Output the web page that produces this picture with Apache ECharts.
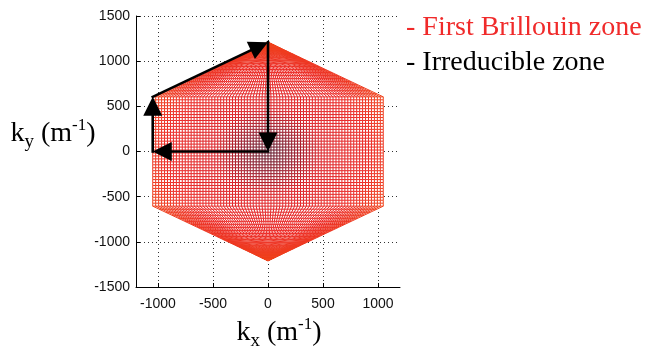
<!DOCTYPE html>
<html>
<head>
<meta charset="utf-8">
<script src="https://cdn.jsdelivr.net/npm/echarts@6/dist/echarts.min.js"></script>
<style>
  html, body { margin: 0; padding: 0; background: #fff; }
  #chart { width: 655px; height: 353px; }
</style>
</head>
<body>
<div id="chart"></div>
<script>
// Axis ticks
const xTicks = [-1000, -500, 0, 500, 1000];
const yTicks = [-1500, -1000, -500, 0, 500, 1000, 1500];

// Corners of the first Brillouin zone (hexagon), clockwise from the top
const zoneX = [0, 1048, 1048, 0, -1048, -1048];
const zoneY = [1210, 605, -605, -1210, -605, 605];

// Irreducible zone path, each leg drawn as an arrow
const pathX = [0, 0, -1048, -1048, 0];
const pathY = [1210, 0, 0, 605, 1210];

// Mesh resolution over the zone
const meshCols = 78;
const meshRowsMid = 37;
const meshRowsTip = 18;

// ---- mesh geometry built from the hexagon corners ----
const halfW = zoneX[1];
const yEdge = zoneY[1];
const yApex = zoneY[0];

function widthAt(y) {
  const a = Math.abs(y);
  return a <= yEdge ? halfW : halfW * (yApex - a) / (yApex - yEdge);
}

const rowYs = [];
for (let j = 0; j <= meshRowsTip; j++) rowYs.push(-yApex + j * (yApex - yEdge) / meshRowsTip);
for (let j = 1; j <= meshRowsMid; j++) rowYs.push(-yEdge + j * 2 * yEdge / meshRowsMid);
for (let j = 1; j <= meshRowsTip; j++) rowYs.push(yEdge + j * (yApex - yEdge) / meshRowsTip);

function colX(i, y) { return (-1 + 2 * i / meshCols) * widthAt(y); }

const meshLines = [];
for (let i = 0; i <= meshCols; i++) {
  meshLines.push(rowYs.map(y => [colX(i, y), y]));
}
rowYs.forEach(y => {
  const pts = [];
  for (let i = 0; i <= meshCols; i++) pts.push([colX(i, y), y]);
  meshLines.push(pts);
});

// colour of the mesh by distance from the zone centre
const colorStops = [
  [0.00, [90, 20, 40]],
  [0.20, [150, 26, 42]],
  [0.40, [220, 34, 40]],
  [0.75, [236, 40, 36]],
  [1.00, [240, 70, 30]]
];
function meshColor(x, y) {
  const r = Math.min(1, Math.sqrt(x * x + y * y) / yApex);
  for (let k = 1; k < colorStops.length; k++) {
    if (r <= colorStops[k][0]) {
      const [r0, c0] = colorStops[k - 1];
      const [r1, c1] = colorStops[k];
      const t = (r - r0) / (r1 - r0);
      const c = c0.map((v, m) => Math.round(v + (c1[m] - v) * t));
      return 'rgb(' + c.join(',') + ')';
    }
  }
  return 'rgb(240,70,30)';
}

// ---- arrows of the irreducible path ----
const arrowSegs = [];
for (let i = 0; i < pathX.length - 1; i++) {
  arrowSegs.push([pathX[i], pathY[i], pathX[i + 1], pathY[i + 1]]);
}

// ---- multi-size text (sub/superscripts) ----
const measureCtx = document.createElement('canvas').getContext('2d');
function partsLabel(parts, x, baseline, color, family) {
  const els = [];
  let cx = x;
  parts.forEach(p => {
    const font = p.size + 'px ' + family;
    measureCtx.font = font;
    const w = measureCtx.measureText(p.t).width;
    els.push({
      type: 'text',
      x: cx,
      y: baseline + (p.dy || 0) - 0.305 * p.size,
      style: { text: p.t, font: font, fill: color, align: 'left', verticalAlign: 'middle' },
      silent: true
    });
    cx += w;
  });
  return { els, width: cx - x };
}
function centeredLabel(parts, centerX, baseline, color, family) {
  const probe = partsLabel(parts, 0, baseline, color, family);
  return partsLabel(parts, centerX - probe.width / 2, baseline, color, family).els;
}

const serif = '"Liberation Serif", "Times New Roman", serif';
const kyParts = [
  { t: 'k', size: 28 },
  { t: 'y', size: 19, dy: 6 },
  { t: ' (m', size: 28 },
  { t: '-1', size: 17, dy: -11 },
  { t: ')', size: 28 }
];
const kxParts = [
  { t: 'k', size: 28 },
  { t: 'x', size: 19, dy: 6 },
  { t: ' (m', size: 28 },
  { t: '-1', size: 17, dy: -11 },
  { t: ')', size: 28 }
];

const graphics = []
  .concat(centeredLabel(kyParts, 53, 142, '#000', serif))
  .concat(centeredLabel(kxParts, 279, 341, '#000', serif))
  .concat(partsLabel([{ t: '- First Brillouin zone', size: 28 }], 406, 36, '#f02a2a', serif).els)
  .concat(partsLabel([{ t: '- Irreducible zone', size: 28 }], 406, 71, '#000', serif).els);

const chart = echarts.init(document.getElementById('chart'), null, { renderer: 'canvas' });

const axisFont = {
  color: '#111', fontSize: 14, fontFamily: '"Liberation Sans", Arial, sans-serif',
  formatter: function (v) { return String(v); }
};
const gridLine = { show: true, lineStyle: { type: [1, 3], color: '#333', width: 1 } };

chart.setOption({
  animation: false,
  backgroundColor: '#fff',
  grid: { left: 136, top: 16, width: 264, height: 271, containLabel: false },
  xAxis: {
    type: 'value',
    min: -1200,
    max: 1200,
    axisLine: { show: true, onZero: false, lineStyle: { color: '#000', width: 1 } },
    axisTick: { show: true, inside: true, length: 4, customValues: xTicks, lineStyle: { color: '#000' } },
    axisLabel: Object.assign({ customValues: xTicks, margin: 10 }, axisFont),
    splitLine: gridLine
  },
  yAxis: {
    type: 'value',
    min: yTicks[0],
    max: yTicks[yTicks.length - 1],
    interval: 500,
    axisLine: { show: true, onZero: false, lineStyle: { color: '#000', width: 1 } },
    axisTick: { show: true, inside: true, length: 4, lineStyle: { color: '#000' } },
    axisLabel: Object.assign({ margin: 6 }, axisFont),
    splitLine: gridLine
  },
  graphic: graphics,
  series: [
    {
      // white faces of the zone
      type: 'custom',
      coordinateSystem: 'cartesian2d',
      data: [[0, 0]],
      z: 2,
      silent: true,
      renderItem: function (params, api) {
        const pts = zoneX.map((x, k) => api.coord([x, zoneY[k]]));
        return { type: 'polygon', shape: { points: pts }, style: { fill: '#fff', stroke: null } };
      }
    },
    {
      // mesh over the zone
      type: 'custom',
      coordinateSystem: 'cartesian2d',
      data: meshLines.map(l => l[0]),
      z: 3,
      silent: true,
      progressive: 0,
      renderItem: function (params, api) {
        const line = meshLines[params.dataIndex];
        const children = [];
        for (let k = 0; k < line.length - 1; k++) {
          const a = api.coord(line[k]);
          const b = api.coord(line[k + 1]);
          const mx = (line[k][0] + line[k + 1][0]) / 2;
          const my = (line[k][1] + line[k + 1][1]) / 2;
          children.push({
            type: 'line',
            shape: { x1: a[0], y1: a[1], x2: b[0], y2: b[1] },
            style: { stroke: meshColor(mx, my), lineWidth: 1 }
          });
        }
        return { type: 'group', children: children };
      }
    },
    {
      // irreducible zone arrows
      type: 'custom',
      coordinateSystem: 'cartesian2d',
      data: arrowSegs,
      z: 5,
      silent: true,
      renderItem: function (params, api) {
        const a = api.coord([api.value(0), api.value(1)]);
        const b = api.coord([api.value(2), api.value(3)]);
        const dx = b[0] - a[0], dy = b[1] - a[1];
        const len = Math.sqrt(dx * dx + dy * dy);
        const ux = dx / len, uy = dy / len;
        const headLen = 19, headHalf = 9.5;
        const bx = b[0] - ux * headLen, by = b[1] - uy * headLen;
        return {
          type: 'group',
          children: [
            {
              type: 'line',
              shape: { x1: a[0], y1: a[1], x2: bx + ux * 2, y2: by + uy * 2 },
              style: { stroke: '#000', lineWidth: 2.6, lineCap: 'square' }
            },
            {
              type: 'polygon',
              shape: { points: [[b[0], b[1]], [bx - uy * headHalf, by + ux * headHalf], [bx + uy * headHalf, by - ux * headHalf]] },
              style: { fill: '#000' }
            }
          ]
        };
      }
    }
  ]
});
</script>
</body>
</html>
